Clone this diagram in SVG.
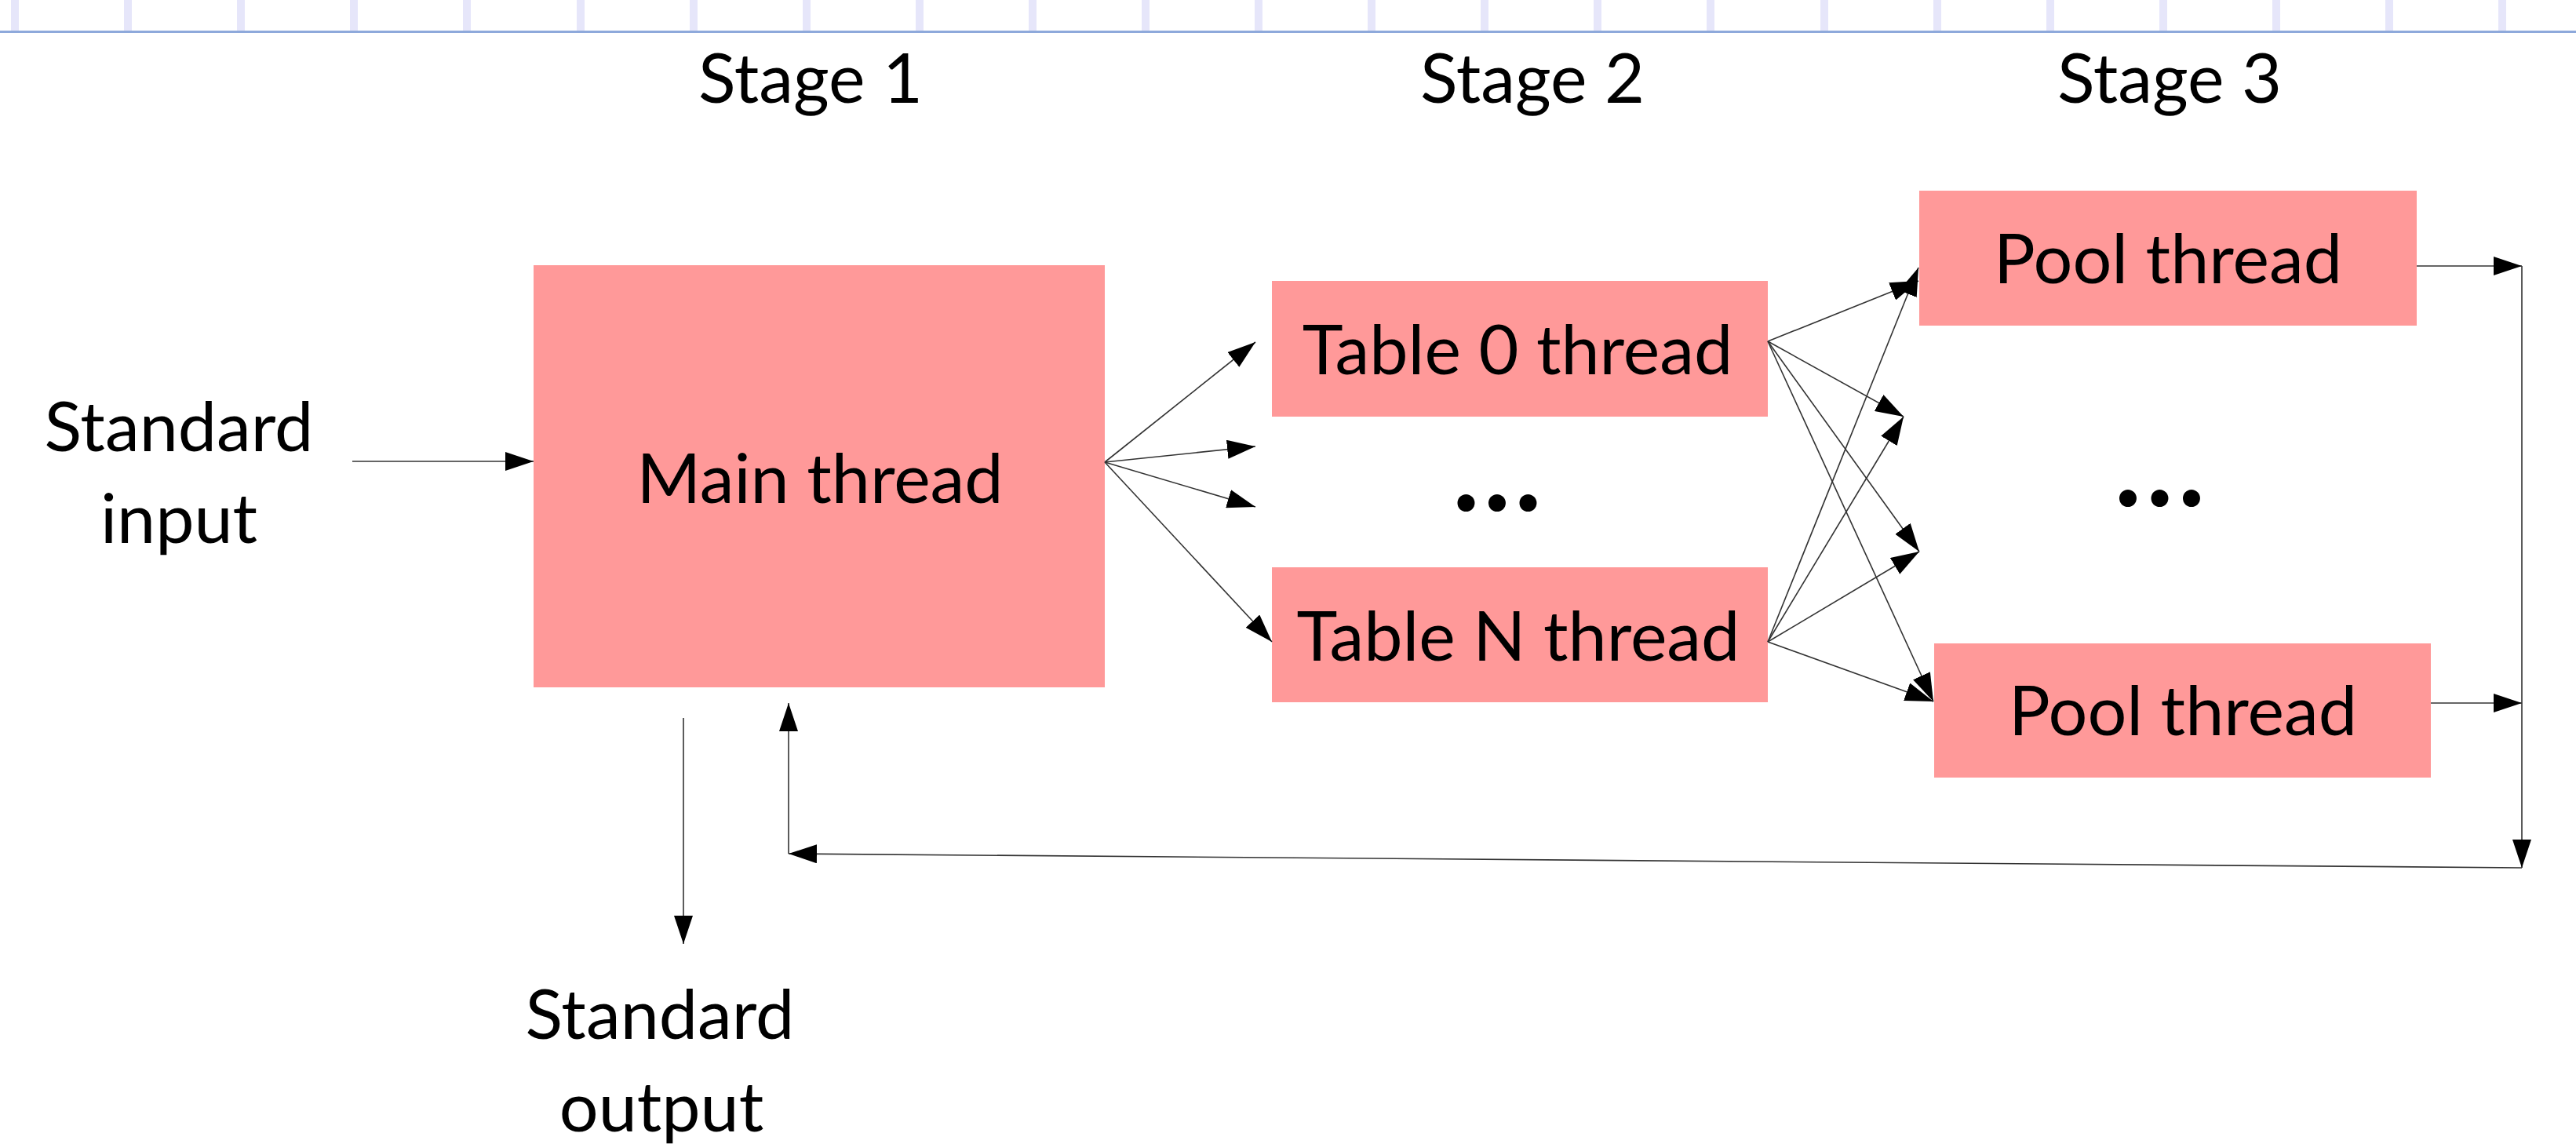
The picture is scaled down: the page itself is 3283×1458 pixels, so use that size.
<svg xmlns="http://www.w3.org/2000/svg" width="3283" height="1458" viewBox="0 0 3283 1458">
<style>
.box{fill:#FF9999}
.t{font-family:Lato,"Open Sans","Liberation Sans",sans-serif;font-size:88px;fill:#000;text-anchor:middle}
.d{font-family:Lato,"Open Sans","Liberation Sans",sans-serif;font-size:145px;font-weight:bold;fill:#000;text-anchor:middle}
.c{stroke:#333;stroke-width:1.6;fill:none;marker-end:url(#ah)}
.tick{fill:#E6E6FA}
</style>
<defs>
<marker id="ah" markerUnits="userSpaceOnUse" markerWidth="36" markerHeight="24" viewBox="0 0 36 24" refX="36" refY="12" orient="auto">
<path d="M0,0 L36,12 L0,24 z" fill="#000"/>
</marker>
</defs>
<rect width="3283" height="1458" fill="#fff"/>
<g id="ruler">
<rect class="tick" x="14" y="0" width="10" height="40"/>
<rect class="tick" x="158" y="0" width="10" height="40"/>
<rect class="tick" x="302" y="0" width="10" height="40"/>
<rect class="tick" x="446" y="0" width="10" height="40"/>
<rect class="tick" x="590" y="0" width="10" height="40"/>
<rect class="tick" x="735" y="0" width="10" height="40"/>
<rect class="tick" x="879" y="0" width="10" height="40"/>
<rect class="tick" x="1023" y="0" width="10" height="40"/>
<rect class="tick" x="1167" y="0" width="10" height="40"/>
<rect class="tick" x="1311" y="0" width="10" height="40"/>
<rect class="tick" x="1455" y="0" width="10" height="40"/>
<rect class="tick" x="1599" y="0" width="10" height="40"/>
<rect class="tick" x="1743" y="0" width="10" height="40"/>
<rect class="tick" x="1887" y="0" width="10" height="40"/>
<rect class="tick" x="2031" y="0" width="10" height="40"/>
<rect class="tick" x="2175" y="0" width="10" height="40"/>
<rect class="tick" x="2320" y="0" width="10" height="40"/>
<rect class="tick" x="2464" y="0" width="10" height="40"/>
<rect class="tick" x="2608" y="0" width="10" height="40"/>
<rect class="tick" x="2752" y="0" width="10" height="40"/>
<rect class="tick" x="2896" y="0" width="10" height="40"/>
<rect class="tick" x="3040" y="0" width="10" height="40"/>
<rect class="tick" x="3184" y="0" width="10" height="40"/>
<line x1="0" y1="40.5" x2="3283" y2="40.5" stroke="#8EA9DB" stroke-width="3"/>
</g>
<g id="stage1"><text class="t" x="1033" y="131">Stage 1</text></g>
<g id="stage2"><text class="t" x="1953" y="131">Stage 2</text></g>
<g id="stage3"><text class="t" x="2765" y="131">Stage 3</text></g>
<g id="std-input">
<text class="t" x="228" y="575">Standard</text>
<text class="t" x="228" y="692">input</text>
</g>
<g id="main-thread">
<rect class="box" x="680" y="338" width="728" height="538"/>
<text class="t" x="1045" y="641">Main thread</text>
</g>
<g id="table0">
<rect class="box" x="1621" y="358" width="632" height="173"/>
<text class="t" x="1934" y="477">Table 0 thread</text>
</g>
<g id="dots2"><text class="d" x="1868.5 1908 1947.5" y="651">...</text></g>
<g id="tableN">
<rect class="box" x="1621" y="723" width="632" height="172"/>
<text class="t" x="1935" y="842">Table N thread</text>
</g>
<g id="pool0">
<rect class="box" x="2446" y="243" width="634" height="172"/>
<text class="t" x="2763" y="361">Pool thread</text>
</g>
<g id="dots3"><text class="d" x="2712 2752.5 2793" y="645">...</text></g>
<g id="poolN">
<rect class="box" x="2465" y="820" width="633" height="171"/>
<text class="t" x="2782" y="937">Pool thread</text>
</g>
<g id="std-output">
<text class="t" x="841" y="1324">Standard</text>
<text class="t" x="843" y="1442">output</text>
</g>
<g id="connectors">
<line class="c" x1="449" y1="588" x2="680" y2="588"/>
<line class="c" x1="1408" y1="589" x2="1600" y2="436"/>
<line class="c" x1="1408" y1="589" x2="1600" y2="569"/>
<line class="c" x1="1408" y1="589" x2="1600" y2="646"/>
<line class="c" x1="1408" y1="589" x2="1621" y2="818"/>
<line class="c" x1="2253" y1="435" x2="2445" y2="358"/>
<line class="c" x1="2253" y1="435" x2="2426" y2="531"/>
<line class="c" x1="2253" y1="435" x2="2446" y2="703"/>
<line class="c" x1="2253" y1="435" x2="2464" y2="894"/>
<line class="c" x1="2253" y1="818" x2="2445" y2="341"/>
<line class="c" x1="2253" y1="818" x2="2426" y2="531"/>
<line class="c" x1="2253" y1="818" x2="2446" y2="703"/>
<line class="c" x1="2253" y1="818" x2="2464" y2="894"/>
<line class="c" x1="3080" y1="339" x2="3214" y2="339"/>
<line class="c" x1="3098" y1="896" x2="3214" y2="896"/>
<line class="c" x1="3214" y1="339" x2="3214" y2="1106"/>
<line class="c" x1="3214" y1="1106" x2="1005" y2="1088"/>
<line class="c" x1="1005" y1="1088" x2="1005" y2="896"/>
<line class="c" x1="871" y1="915" x2="871" y2="1203"/>
</g>
</svg>
